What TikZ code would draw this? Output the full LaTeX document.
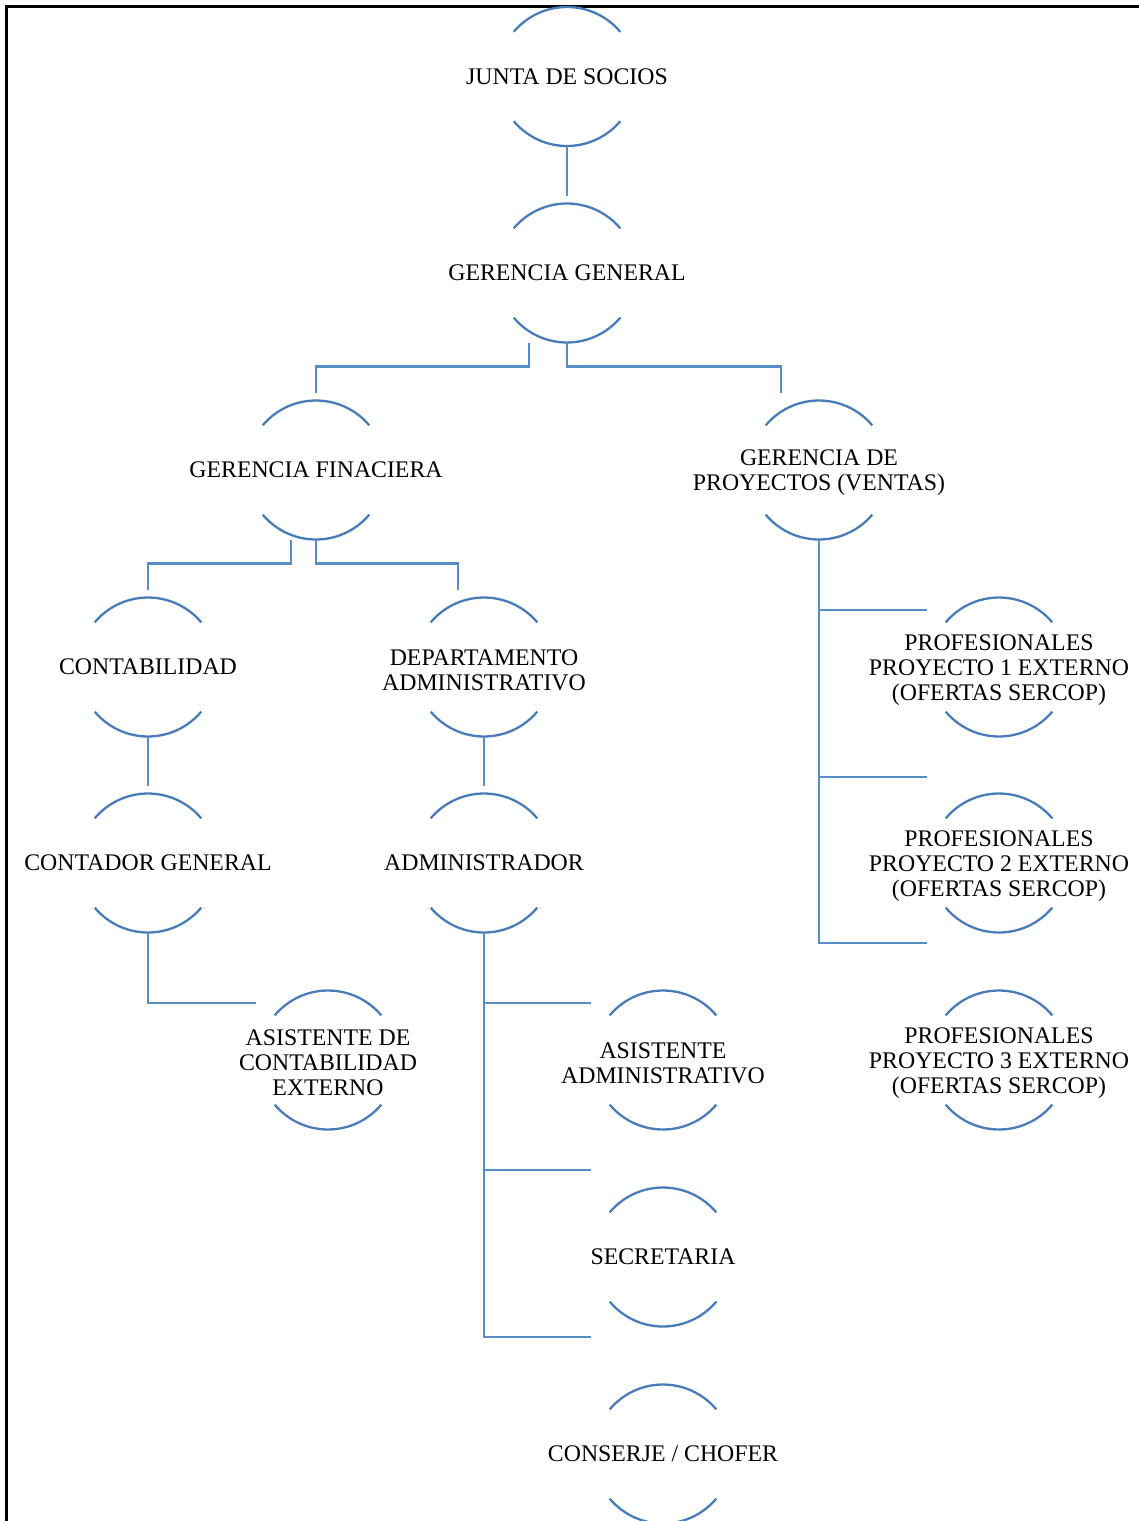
\documentclass[tikz,border=0pt]{standalone}
\usepackage{fontspec}
\setmainfont{Liberation Serif}
\usetikzlibrary{positioning}

\definecolor{azul}{RGB}{72,124,184}
\definecolor{azulclaro}{RGB}{88,140,198}

\tikzset{
    arco/.style={draw=azul, line width=1.15pt},
    linea/.style={draw=azulclaro, line width=1.4pt},
    puesto/.style={circle, minimum size=69.5pt, inner sep=0pt, outer sep=0pt},
    texto/.style={align=center, font=\fontsize{11.9}{12.5}\selectfont},
    textos/.style={texto, yshift=-1.5pt},
}

\begin{document}
\begin{tikzpicture}[x=0.5pt, y=0.5pt]
        \useasboundingbox (0,0) rectangle (1139,-1521);
        \draw[line width=1.2pt] (1139,-6.5) -- (6.5,-6.5) -- (6.5,-1521);

        % Niveles superiores
        \node[puesto, label={[texto]center:JUNTA DE SOCIOS}] (junta) at (567,-76.5) {};
        \node[puesto, label={[texto]center:GERENCIA GENERAL}] (gg) at (567,-273) {};
        \node[puesto, label={[texto]center:GERENCIA FINACIERA}] (gf) at (316,-470) {};
        \node[puesto, label={[textos]center:GERENCIA DE\\PROYECTOS (VENTAS)}] (gp) at (819,-470) {};

        % Rama financiera
        \node[puesto, label={[texto]center:CONTABILIDAD}] (cont) at (148,-667) {};
        \node[puesto, label={[textos]center:DEPARTAMENTO\\ADMINISTRATIVO}] (depto) at (484,-667) {};
        \node[puesto, label={[texto]center:CONTADOR GENERAL}] (contador) at (148,-863) {};
        \node[puesto, label={[texto]center:ADMINISTRADOR}] (admin) at (484,-863) {};
        \node[puesto, label={[textos]center:ASISTENTE DE\\CONTABILIDAD\\EXTERNO}] (ascont) at (328,-1060) {};
        \node[puesto, label={[textos]center:ASISTENTE\\ADMINISTRATIVO}] (asadm) at (663,-1060) {};
        \node[puesto, label={[texto]center:SECRETARIA}] (secre) at (663,-1257) {};
        \node[puesto, label={[texto]center:CONSERJE / CHOFER}] (conserje) at (663,-1454) {};

        % Rama de proyectos
        \node[puesto, label={[textos]center:PROFESIONALES\\PROYECTO 1 EXTERNO\\(OFERTAS SERCOP)}] (prof1) at (999,-667) {};
        \node[puesto, label={[textos]center:PROFESIONALES\\PROYECTO 2 EXTERNO\\(OFERTAS SERCOP)}] (prof2) at (999,-863) {};
        \node[puesto, label={[textos]center:PROFESIONALES\\PROYECTO 3 EXTERNO\\(OFERTAS SERCOP)}] (prof3) at (999,-1060) {};

        % Arcos
        \foreach \n in {junta,gg,gf,gp,cont,depto,contador,admin,ascont,asadm,secre,conserje,prof1,prof2,prof3} {
            \draw[arco] (\n.40) arc[start angle=40, end angle=140, radius=34.75pt];
            \draw[arco] (\n.-40) arc[start angle=-40, end angle=-140, radius=34.75pt];
        }

        % Conectores
        \draw[linea, shorten >=4pt] (junta.south) -- (gg.north);
        \draw[linea, shorten >=4pt] (gg.south) ++(-38,0) -- ++(0,-24) -| (gf.north);
        \draw[linea, shorten >=4pt] (gg.south) -- ++(0,-24) -| ([xshift=-19pt]gp.north);
        \draw[linea, shorten >=4pt] (gf.south) ++(-25,0) -- ++(0,-24) -| (cont.north);
        \draw[linea, shorten >=4pt] (gf.south) -- ++(0,-24) -| ([xshift=-13pt]depto.north);
        \draw[linea, shorten >=4pt] (cont.south) -- (contador.north);
        \draw[linea, shorten >=4pt] (depto.south) -- (admin.north);
        \draw[linea] (contador.south) |- ([shift={(-2.5,57)}]ascont.west);
        \draw[linea] (admin.south) |- ([shift={(-2.5,57)}]asadm.west);
        \draw[linea] (admin.south) |- ([shift={(-2.5,87)}]secre.west);
        \draw[linea] (admin.south) |- ([shift={(-2.5,117)}]conserje.west);
        \draw[linea] (gp.south) |- ([shift={(-2.5,57)}]prof1.west);
        \draw[linea] (gp.south) |- ([shift={(-2.5,86)}]prof2.west);
        \draw[linea] (gp.south) |- ([shift={(-2.5,117)}]prof3.west);
    \end{tikzpicture}
\end{document}
